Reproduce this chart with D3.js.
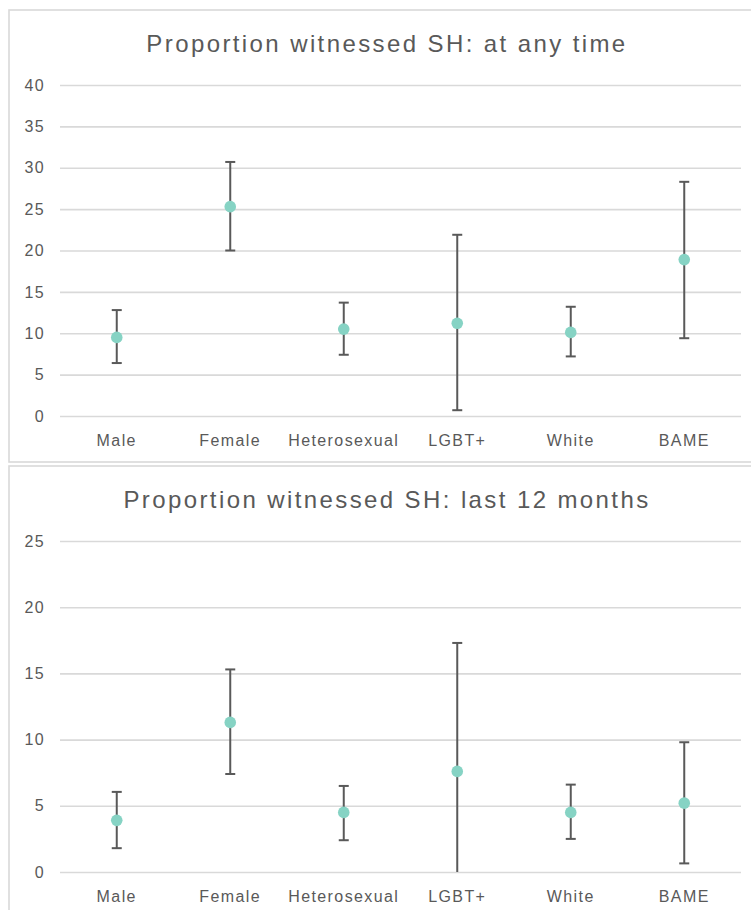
<!DOCTYPE html>
<html>
<head>
<meta charset="utf-8">
<script src="https://cdn.jsdelivr.net/npm/d3@7"></script>
<style>
  html, body { margin: 0; padding: 0; background: #ffffff; }
  svg { display: block; }
  text { font-family: "Liberation Sans", Arial, sans-serif; fill: #595959; }
</style>
</head>
<body>
<svg id="chart" width="751" height="910"></svg>
<script>
// Groups shown on the x axis
const categories = ["Male", "Female", "Heterosexual", "LGBT+", "White", "BAME"];

// Witnessed sexual harassment at any time (%), with confidence limits
const anyTimeValues = [9.5, 25.3, 10.5, 11.2, 10.1, 18.9];
const anyTimeLower  = [6.4, 20.0, 7.4, 0.7, 7.2, 9.4];
const anyTimeUpper  = [12.8, 30.7, 13.7, 21.9, 13.2, 28.3];
const anyTimeTicks  = [0, 5, 10, 15, 20, 25, 30, 35, 40];

// Witnessed sexual harassment in the last 12 months (%), with confidence limits
const lastYearValues = [3.9, 11.3, 4.5, 7.6, 4.5, 5.2];
const lastYearLower  = [1.8, 7.4, 2.4, -2.1, 2.5, 0.65];
const lastYearUpper  = [6.05, 15.3, 6.5, 17.3, 6.6, 9.8];
const lastYearTicks  = [0, 5, 10, 15, 20, 25];

const titles = [
  "Proportion witnessed SH: at any time",
  "Proportion witnessed SH: last 12 months"
];

const svg = d3.select("#chart");

const panelLeft = 9, panelWidth = 750, panelHeight = 452;
const plotLeft = 60, plotRight = 741;
const plotTopOffset = 75, plotHeight = 331;

function drawPanel(index, top, values, lower, upper, ticks) {
  const g = svg.append("g").attr("transform", `translate(0,${top})`);

  // chart frame
  g.append("rect")
    .attr("x", panelLeft).attr("y", 0)
    .attr("width", panelWidth).attr("height", panelHeight)
    .attr("fill", "#ffffff")
    .attr("stroke", "#d9d9d9").attr("stroke-width", 1.6);

  // title
  g.append("text")
    .attr("x", 387).attr("y", 42)
    .attr("text-anchor", "middle")
    .attr("font-size", 24)
    .attr("letter-spacing", "2.4px")
    .text(titles[index]);

  const x = d3.scaleBand().domain(categories).range([plotLeft, plotRight]).padding(0);
  const y = d3.scaleLinear()
    .domain([0, d3.max(ticks)])
    .range([plotTopOffset + plotHeight, plotTopOffset]);

  // horizontal gridlines with value labels
  const yAxis = g.append("g")
    .attr("transform", `translate(${plotLeft},0)`)
    .call(d3.axisLeft(y).tickValues(ticks).tickSize(-(plotRight - plotLeft)).tickPadding(15).tickFormat(d3.format("d")));
  yAxis.select(".domain").remove();
  yAxis.selectAll(".tick line").attr("stroke", "#d9d9d9").attr("stroke-width", 1.6);
  yAxis.selectAll(".tick text")
    .attr("fill", "#595959")
    .attr("font-size", 16)
    .attr("letter-spacing", "1.4px")
    .attr("font-family", "Liberation Sans, Arial, sans-serif");

  // category labels
  g.selectAll("text.cat")
    .data(categories)
    .join("text")
    .attr("class", "cat")
    .attr("x", d => x(d) + x.bandwidth() / 2)
    .attr("y", plotTopOffset + plotHeight + 29.5)
    .attr("text-anchor", "middle")
    .attr("font-size", 16)
    .attr("letter-spacing", "1.4px")
    .text(d => d);

  // clip error bars to the plotting area
  const clipId = "plot-clip-" + index;
  g.append("clipPath").attr("id", clipId)
    .append("rect")
    .attr("x", plotLeft).attr("y", y(d3.max(ticks)) - 2)
    .attr("width", plotRight - plotLeft)
    .attr("height", y(0) - y(d3.max(ticks)) + 2);

  const rows = categories.map((c, i) => ({ c, v: values[i], lo: lower[i], hi: upper[i] }));
  const capHalf = 5;

  const bars = g.append("g").attr("clip-path", `url(#${clipId})`)
    .attr("stroke", "#595959").attr("stroke-width", 2).attr("fill", "none");

  bars.selectAll("line.whisker")
    .data(rows).join("line").attr("class", "whisker")
    .attr("x1", d => x(d.c) + x.bandwidth() / 2)
    .attr("x2", d => x(d.c) + x.bandwidth() / 2)
    .attr("y1", d => y(d.lo))
    .attr("y2", d => y(d.hi));

  bars.selectAll("line.cap-hi")
    .data(rows).join("line").attr("class", "cap-hi")
    .attr("x1", d => x(d.c) + x.bandwidth() / 2 - capHalf)
    .attr("x2", d => x(d.c) + x.bandwidth() / 2 + capHalf)
    .attr("y1", d => y(d.hi)).attr("y2", d => y(d.hi));

  bars.selectAll("line.cap-lo")
    .data(rows.filter(d => d.lo >= 0)).join("line").attr("class", "cap-lo")
    .attr("x1", d => x(d.c) + x.bandwidth() / 2 - capHalf)
    .attr("x2", d => x(d.c) + x.bandwidth() / 2 + capHalf)
    .attr("y1", d => y(d.lo)).attr("y2", d => y(d.lo));

  // point estimates
  g.selectAll("circle.point")
    .data(rows).join("circle").attr("class", "point")
    .attr("cx", d => x(d.c) + x.bandwidth() / 2)
    .attr("cy", d => y(d.v))
    .attr("r", 5.8)
    .attr("fill", "#86d3c4");
}

drawPanel(0, 10, anyTimeValues, anyTimeLower, anyTimeUpper, anyTimeTicks);
drawPanel(1, 466, lastYearValues, lastYearLower, lastYearUpper, lastYearTicks);
</script>
</body>
</html>
